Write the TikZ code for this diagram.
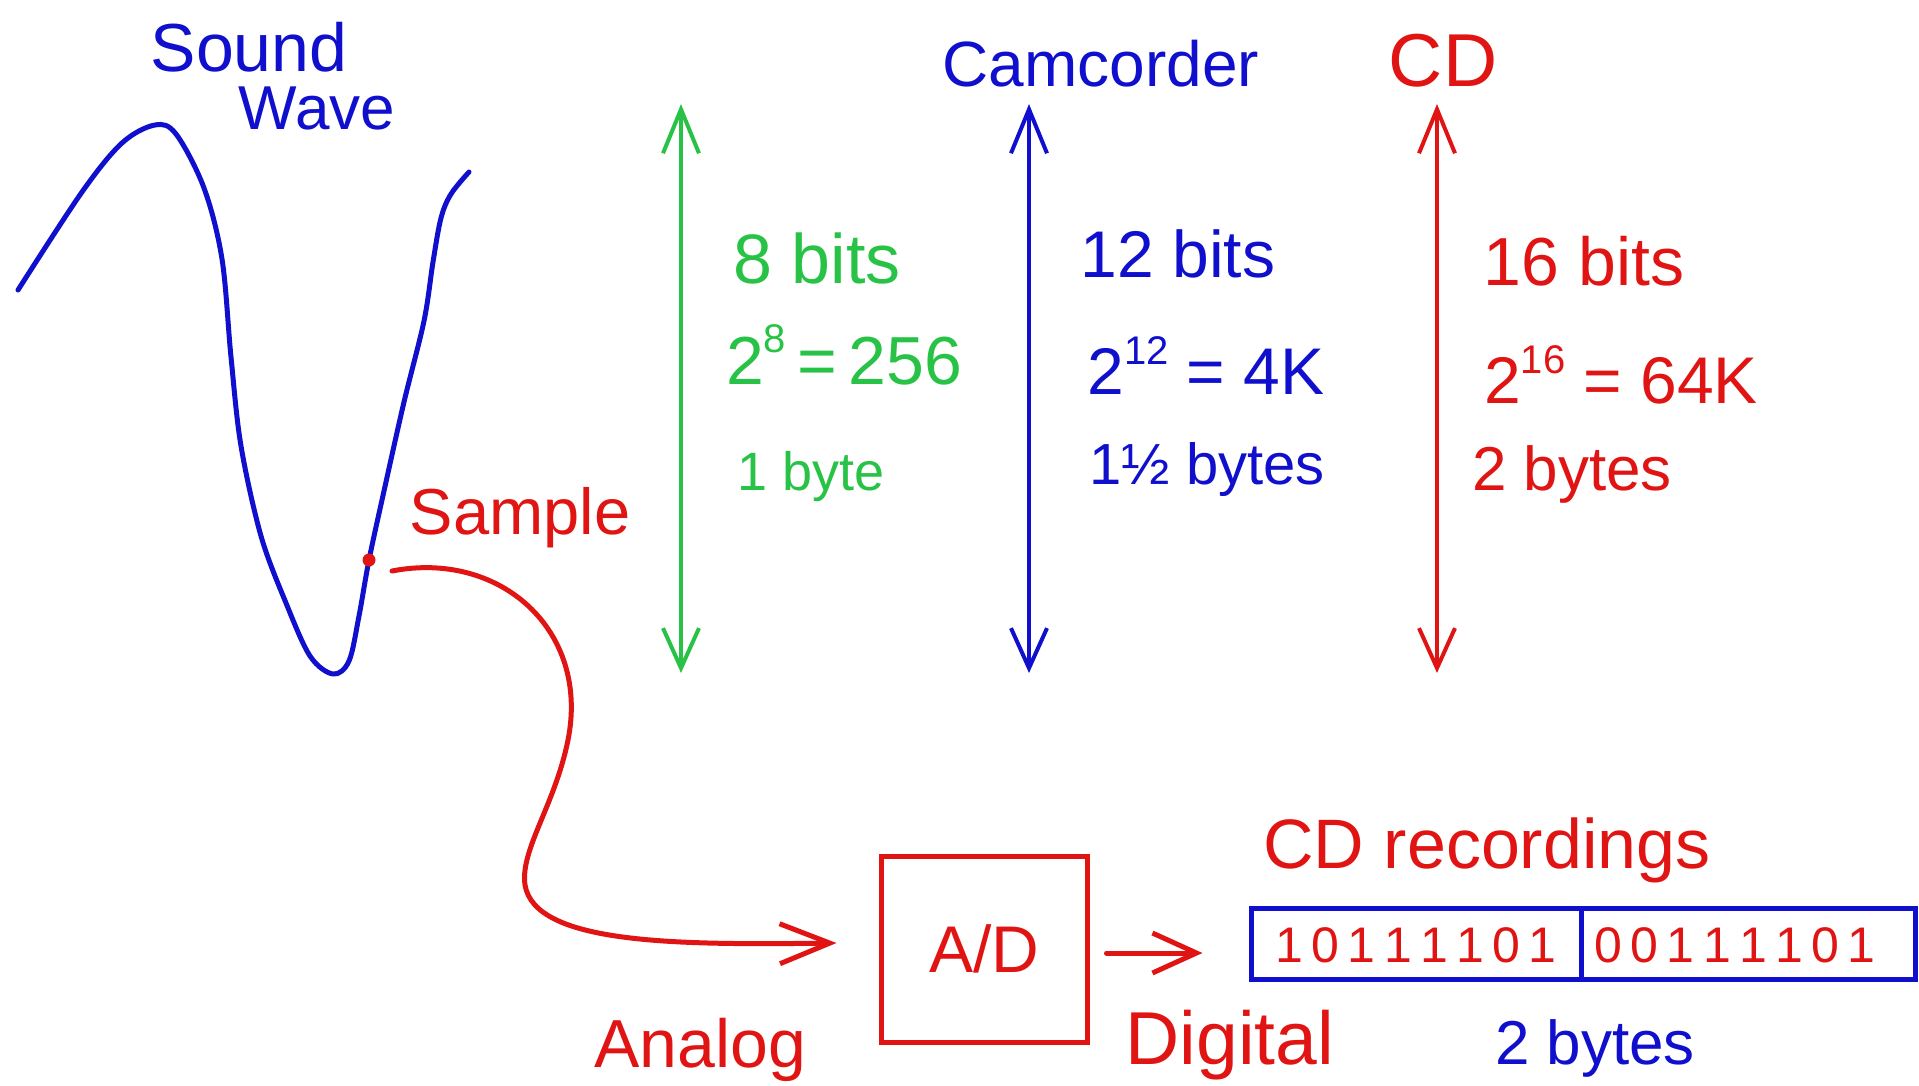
\documentclass[tikz,border=0pt]{standalone}
\usepackage{fontspec}
\setmainfont{Liberation Sans}
\usetikzlibrary{arrows.meta}
\definecolor{pblue}{RGB}{15,15,205}
\definecolor{pred}{RGB}{225,20,20}
\definecolor{pgreen}{RGB}{40,195,70}
\newcommand\upper[2]{\raisebox{#1}{\fontsize{40}{40}\selectfont #2}}
\tikzset{
  hw/.style={inner sep=0pt, font=\fontsize{#1}{#1}\selectfont},
  pen/.style={line width=5pt, line cap=round, line join=round},
  dbl/.style={pen, {Straight Barb[length=44pt,width=36pt,line width=4pt]}-{Straight Barb[length=40pt,width=36pt,line width=4pt]}, line width=4pt},
  barb/.style={-{Straight Barb[length=#1,width=40pt,line width=5pt]}},
  boxx/.style={draw, line width=5pt, inner sep=0pt},
}
\begin{document}
\begin{tikzpicture}[x=1pt,y=-1pt]
\useasboundingbox (0,0) rectangle (1919,1086);
% sound wave
\draw[pen, pblue] plot[smooth, tension=0.55] coordinates {
 (18,290) (82,192) (122,143) (155,125) (176,134) (204,188) (222,259)
 (231,357) (241,446) (261,536) (286,603) (310,656) (333,674) (349,661)
 (359,616) (369,560) (384,491) (404,402) (424,321) (433,262) (441,218) (451,194) (469,172)};
\node[hw=68, text=pblue] (sound) at (249,47) {Sound};
\node[hw=62, text=pblue] (wave) at (317,108) {Wave};
\node[circle, fill=pred, minimum size=13pt, inner sep=0pt] (dot) at (369,560) {};
\node[hw=65, text=pred] (sample) at (520,518) {Sample};

% vertical ranges
\coordinate (gt) at (681,104); \coordinate (gb) at (681,673);
\coordinate (bt) at (1029,104); \coordinate (bb) at (1029,673);
\coordinate (rt) at (1437,104); \coordinate (rb) at (1437,673);
\draw[dbl, pgreen] (gt) -- (gb);
\draw[dbl, pblue] (bt) -- (bb);
\draw[dbl, pred] (rt) -- (rb);

\node[hw=64, text=pblue] (cam) at (1101,64) {Camcorder};
\node[hw=75, text=pred] (cd) at (1443,61) {CD};

\node[hw=70, text=pgreen] (g1) at (817,258) {8 bits};
\node[hw=68, text=pgreen] (g2) at (844,355) {2\upper{32pt}{8}\,=\,256};
\node[hw=54, text=pgreen] (g3) at (811,477) {1 byte};

\node[hw=66, text=pblue] (b1) at (1178,254) {12 bits};
\node[hw=66, text=pblue] (b2) at (1206,366) {2\upper{30pt}{12} = 4K};
\node[hw=58, text=pblue] (b3) at (1207,470) {1½ bytes};

\node[hw=68, text=pred] (r1) at (1584,261) {16 bits};
\node[hw=66, text=pred] (r2) at (1621,375) {2\upper{30pt}{16} = 64K};
\node[hw=62, text=pred] (r3) at (1572,474) {2 bytes};

% A/D and bits
\node[boxx, draw=pred, minimum width=206pt, minimum height=186pt] (ad) at (984,949) {};
\node[hw=66, text=pred] (adt) at (ad.center) {A/D};
\node[boxx, draw=pblue, minimum width=330pt, minimum height=71pt] (byteA) at (1416,943.5) {};
\node[boxx, draw=pblue, minimum width=334pt, minimum height=71pt] (byteB) at (1748,943.5) {};
\node[hw=50, text=pred] (bitsA) at (1416,945) {1\,0\,1\,1\,1\,1\,0\,1};
\node[hw=50, text=pred] (bitsB) at (1735,945) {0\,0\,1\,1\,1\,1\,0\,1};
\node[hw=70, text=pred] (cdrec) at (1487,850) {CD recordings};
\node[hw=68, text=pred] (analog) at (700,1050) {Analog};
\node[hw=75, text=pred] (digital) at (1230,1045) {Digital};
\node[hw=62, text=pblue] (twob) at (1595,1048) {2 bytes};

% connectors
\draw[pen, pred, barb=50pt] (dot) ++(23,11) .. controls (500,550) and (590,630) .. (568,740)
  .. controls (555,805) and (520,850) .. (525,885)
  .. controls (535,945) and (680,945) .. ([xshift=-42pt]ad.west |- 0,943);
\draw[pen, pred, barb=44pt] ([xshift=17pt]ad.east |- 0,953) -- ([xshift=-46pt]byteA.west |- 0,953);
\end{tikzpicture}
\end{document}
